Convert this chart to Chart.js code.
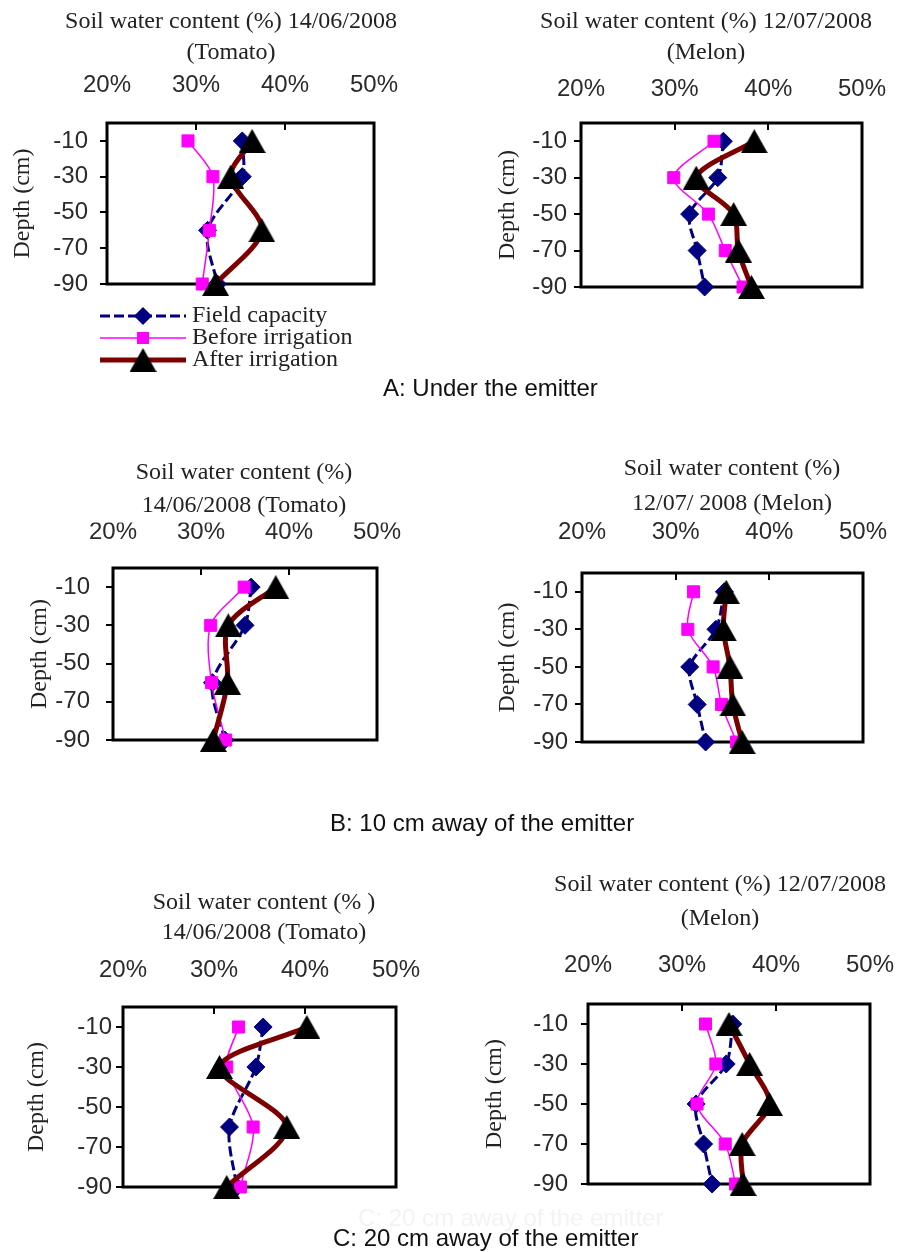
<!DOCTYPE html>
<html>
<head>
<meta charset="utf-8">
<script src="https://cdn.jsdelivr.net/npm/chart.js@4.4.1/dist/chart.umd.min.js"></script>
<style>
  body { margin: 0; background: #fff; width: 898px; height: 1252px; position: relative; overflow: hidden; }
  canvas { position: absolute; }
  .cap { position: absolute; font: 24px "Liberation Sans", Arial, sans-serif; color: #111; white-space: nowrap; line-height: 28px; }
</style>
</head>
<body>
<div id="wrap"></div>
<div class="cap" style="left:383px;top:374px">A: Under the emitter</div>
<div class="cap" style="left:330px;top:809px">B: 10 cm away of the emitter</div>
<div class="cap" style="left:358px;top:1204px;color:#f3f3f3">C: 20 cm away of the emitter</div>
<div class="cap" style="left:333px;top:1224px">C: 20 cm away of the emitter</div>
<script>
// depths (cm) and axis ticks
const tomatoDepths = [-10, -30, -60, -90];
const melonDepths = [-10, -30, -50, -70, -90];
const xTicks = [20, 30, 40, 50];
const yTicks = [-10, -30, -50, -70, -90];
const seriesNames = ['Field capacity', 'Before irrigation', 'After irrigation'];

// A: under the emitter
const fieldTomatoA = [35.2, 35.2, 31.3, 32.4];
const beforeTomatoA = [29.1, 31.9, 31.5, 30.7];
const afterTomatoA = [36.3, 33.9, 37.4, 32.2];
const fieldMelonA = [35.2, 34.6, 31.6, 32.4, 33.2];
const beforeMelonA = [34.2, 29.9, 33.6, 35.4, 37.3];
const afterMelonA = [38.5, 32.3, 36.3, 36.8, 38.2];

// B: 10 cm away
const fieldTomatoB = [35.7, 35.0, 31.3, 32.7];
const beforeTomatoB = [34.9, 31.1, 31.2, 32.8];
const afterTomatoB = [38.5, 33.1, 33.0, 31.4];
const fieldMelonB = [35.2, 34.3, 31.5, 32.3, 33.2];
const beforeMelonB = [31.9, 31.3, 34.0, 34.9, 36.5];
const afterMelonB = [35.4, 35.1, 35.8, 36.1, 37.1];

// C: 20 cm away
const fieldTomatoC = [35.4, 34.6, 31.7, 32.5];
const beforeTomatoC = [32.7, 31.4, 34.3, 32.9];
const afterTomatoC = [40.2, 30.6, 38.0, 31.4];
const fieldMelonC = [35.4, 34.7, 31.5, 32.3, 33.2];
const beforeMelonC = [32.5, 33.6, 31.6, 34.6, 35.7];
const afterMelonC = [35.0, 37.2, 39.3, 36.4, 36.5];

const panels = [
  { left: 0, top: 0, w: 449, h: 378, title: ['Soil water content (%) 14/06/2008', '(Tomato)'],
    depths: tomatoDepths, series: [fieldTomatoA, beforeTomatoA, afterTomatoA],
    box: { l: 107, t: 123, r: 374, b: 284 }, titleCx: 231, titleY: 22, titleLH: 31, xLabelY: 85, yLabelRight: 88, depthX: 23, legend: true },
  { left: 449, top: 0, w: 449, h: 378, title: ['Soil water content (%) 12/07/2008', '(Melon)'],
    depths: melonDepths, series: [fieldMelonA, beforeMelonA, afterMelonA],
    box: { l: 581, t: 123, r: 862, b: 287 }, titleCx: 706, titleY: 22, titleLH: 31, xLabelY: 89, yLabelRight: 567, depthX: 508 },
  { left: 0, top: 440, w: 449, h: 370, title: ['Soil water content (%)', '14/06/2008 (Tomato)'],
    depths: tomatoDepths, series: [fieldTomatoB, beforeTomatoB, afterTomatoB],
    box: { l: 113, t: 568, r: 377, b: 740 }, titleCx: 244, titleY: 473, titleLH: 33, xLabelY: 532, yLabelRight: 90, depthX: 40 },
  { left: 449, top: 440, w: 449, h: 370, title: ['Soil water content (%)', '12/07/ 2008 (Melon)'],
    depths: melonDepths, series: [fieldMelonB, beforeMelonB, afterMelonB],
    box: { l: 582, t: 573, r: 863, b: 742 }, titleCx: 732, titleY: 469, titleLH: 35, xLabelY: 532, yLabelRight: 568, depthX: 508 },
  { left: 0, top: 855, w: 449, h: 350, title: ['Soil water content (% )', '14/06/2008 (Tomato)'],
    depths: tomatoDepths, series: [fieldTomatoC, beforeTomatoC, afterTomatoC],
    box: { l: 123, t: 1007, r: 396, b: 1187 }, titleCx: 264, titleY: 903, titleLH: 30, xLabelY: 970, yLabelRight: 112, depthX: 37 },
  { left: 449, top: 855, w: 449, h: 350, title: ['Soil water content (%) 12/07/2008', '(Melon)'],
    depths: melonDepths, series: [fieldMelonC, beforeMelonC, afterMelonC],
    box: { l: 588, t: 1004, r: 870, b: 1184 }, titleCx: 720, titleY: 885, titleLH: 34, xLabelY: 965, yLabelRight: 568, depthX: 495 }
];

const SANS = '"Liberation Sans", Arial, sans-serif';
const SERIF = '"Liberation Serif", "Times New Roman", serif';

// excel-like triangle, centred on its bounding box
const tri = document.createElement('canvas');
tri.width = 27; tri.height = 24;
(function () {
  const g = tri.getContext('2d');
  g.fillStyle = '#000';
  g.beginPath(); g.moveTo(13.5, 0); g.lineTo(27, 24); g.lineTo(0, 24); g.closePath(); g.fill();
})();

const looks = [
  { borderColor: '#000080', pointBackgroundColor: '#000080', pointBorderColor: '#000080', borderWidth: 3, borderDash: [10, 4], pointStyle: 'rectRot', pointRadius: 9, order: 3 },
  { borderColor: '#ff00ff', pointBackgroundColor: '#ff00ff', pointBorderColor: '#ff00ff', borderWidth: 1.5, pointStyle: 'rect', pointRadius: 8.5, order: 2 },
  { borderColor: '#7d0000', pointBackgroundColor: '#000', pointBorderColor: '#000', borderWidth: 5, pointStyle: tri, pointRadius: 13, order: 1 }
];

function toPoints(xs, depths) {
  return xs.map((v, i) => ({ x: v, y: depths[i] }));
}

function drawMarker(ctx, style, color, x, y, r) {
  ctx.save();
  ctx.setLineDash([]);
  ctx.fillStyle = color;
  if (style === 'rectRot') {
    ctx.beginPath(); ctx.moveTo(x - r, y); ctx.lineTo(x, y - r); ctx.lineTo(x + r, y); ctx.lineTo(x, y + r); ctx.closePath(); ctx.fill();
  } else if (style === 'rect') {
    const s = r * Math.SQRT1_2;
    ctx.fillRect(x - s, y - s, 2 * s, 2 * s);
  } else {
    ctx.drawImage(style, x - style.width / 2, y - style.height / 2);
  }
  ctx.restore();
}

// plot frame + small tick marks (inward on top, outward on the left)
const framePlugin = {
  id: 'frame',
  beforeDatasetsDraw(chart) {
    const a = chart.chartArea, ctx = chart.ctx;
    const xs = chart.scales.x, ys = chart.scales.y;
    ctx.save();
    ctx.strokeStyle = '#000';
    ctx.lineWidth = 2;
    ctx.beginPath();
    xTicks.slice(1, -1).forEach(v => {
      const px = Math.round(xs.getPixelForValue(v));
      ctx.moveTo(px, a.top); ctx.lineTo(px, a.top + 7);
    });
    yTicks.forEach(v => {
      const py = Math.round(ys.getPixelForValue(v));
      ctx.moveTo(a.left - 7, py); ctx.lineTo(a.left, py);
    });
    ctx.stroke();
    ctx.lineWidth = 3;
    ctx.strokeRect(a.left, a.top, a.right - a.left, a.bottom - a.top);
    ctx.restore();
  }
};

const titleShift = {
  id: 'titleShift',
  afterLayout(chart, args, opts) {
    const t = chart.titleBlock;
    if (!t || opts.cx == null) return;
    const dx = opts.cx - (t.left + t.right) / 2;
    t.left += dx; t.right += dx;
  }
};

const depthLegend = {
  id: 'depthLegend',
  afterDraw(chart, args, opts) {
    if (!opts.show) return;
    const ctx = chart.ctx;
    ctx.save();
    chart.data.datasets.forEach((ds, i) => {
      const y = opts.y + i * opts.rowH;
      ctx.strokeStyle = ds.borderColor;
      ctx.lineWidth = ds.borderWidth;
      ctx.setLineDash(ds.borderDash || []);
      ctx.beginPath(); ctx.moveTo(opts.x, y); ctx.lineTo(opts.x + opts.len, y); ctx.stroke();
      drawMarker(ctx, ds.pointStyle, ds.pointBackgroundColor, opts.x + opts.len / 2, y, ds.pointRadius);
      ctx.setLineDash([]);
      ctx.fillStyle = '#222';
      ctx.font = '24px ' + SERIF;
      ctx.textBaseline = 'middle';
      ctx.textAlign = 'left';
      ctx.fillText(ds.label, opts.textX, y);
    });
    ctx.restore();
  }
};

// scales keep a fixed size and don't push the plot area around
function fixSize(s, w, h) {
  if (w != null) s.width = w;
  if (h != null) s.height = h;
  s.paddingLeft = s.paddingRight = s.paddingTop = s.paddingBottom = 0;
}

const wrap = document.getElementById('wrap');

panels.forEach(p => {
  const cv = document.createElement('canvas');
  cv.width = p.w; cv.height = p.h;
  cv.style.left = p.left + 'px'; cv.style.top = p.top + 'px';
  wrap.appendChild(cv);

  const padTop = p.titleY - p.top - p.titleLH / 2;
  const xAxisH = p.box.t - p.top - padTop - 2 * p.titleLH;
  const yAxisW = p.box.l - p.left;

  new Chart(cv, {
    type: 'scatter',
    data: {
      datasets: p.series.map((vals, i) => Object.assign({
        label: seriesNames[i],
        data: toPoints(vals, p.depths),
        showLine: true,
        tension: 0.3,
        pointBorderWidth: 1,
        clip: false
      }, looks[i]))
    },
    plugins: [framePlugin, titleShift, depthLegend],
    options: {
      responsive: false,
      animation: false,
      devicePixelRatio: 1,
      layout: { padding: { top: padTop, left: 0, right: p.left + p.w - p.box.r, bottom: p.top + p.h - p.box.b } },
      plugins: {
        legend: { display: false },
        tooltip: { enabled: false },
        title: {
          display: true,
          text: p.title,
          color: '#222',
          font: { family: SERIF, size: 24, weight: 'normal', lineHeight: p.titleLH + 'px' },
          padding: 0
        },
        titleShift: { cx: p.titleCx - p.left },
        depthLegend: { show: !!p.legend, x: 100 - p.left, y: 316 - p.top, rowH: 22, len: 86, textX: 192 - p.left }
      },
      scales: {
        x: {
          type: 'linear',
          position: 'top',
          min: 20, max: 50,
          afterBuildTicks: s => { s.ticks = xTicks.map(v => ({ value: v })); },
          afterFit: s => fixSize(s, null, xAxisH),
          ticks: {
            callback: v => v + '%',
            color: '#2a2a2a',
            font: { family: SANS, size: 24, lineHeight: 1.2 },
            padding: p.box.t - 14.4 - p.xLabelY,
            maxRotation: 0,
            autoSkip: false
          },
          grid: { display: false, drawOnChartArea: false, drawTicks: false },
          border: { display: false }
        },
        y: {
          type: 'linear',
          min: -90, max: 0,
          afterBuildTicks: s => { s.ticks = yTicks.map(v => ({ value: v })); },
          afterFit: s => fixSize(s, yAxisW, null),
          ticks: {
            callback: v => String(v),
            color: '#2a2a2a',
            font: { family: SANS, size: 24, lineHeight: 1.2 },
            padding: p.box.l - p.yLabelRight,
            autoSkip: false
          },
          grid: { display: false, drawOnChartArea: false, drawTicks: false },
          border: { display: false },
          title: {
            display: true,
            text: 'Depth (cm)',
            color: '#222',
            font: { family: SERIF, size: 24, lineHeight: 1.2 },
            padding: { top: p.depthX - p.left - 14.4, bottom: 0 }
          }
        }
      }
    }
  });
});
</script>
</body>
</html>
